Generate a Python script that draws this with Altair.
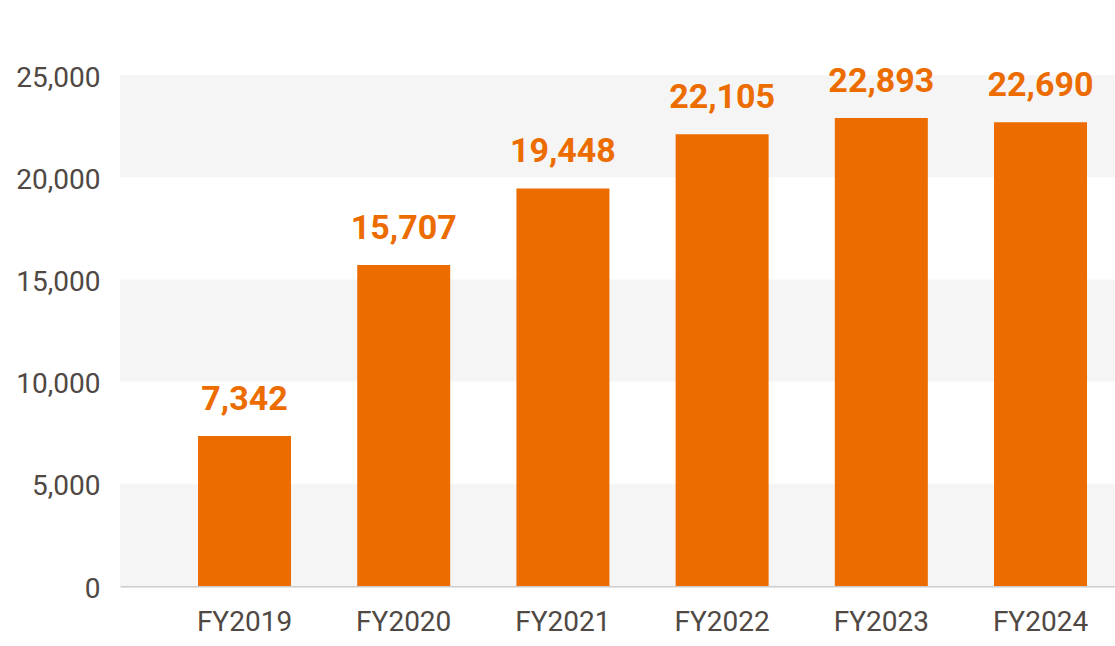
import altair as alt
import pandas as pd

years = ["FY2019", "FY2020", "FY2021", "FY2022", "FY2023", "FY2024"]
values = [7342, 15707, 19448, 22105, 22893, 22690]
y_ticks = [0, 5000, 10000, 15000, 20000, 25000]
band_starts = [0, 10000, 20000]
band_size = 5000

ORANGE = "#ec6c00"
TEXT = "#4f4843"
FONT = "Roboto"

df = pd.DataFrame({"year": years, "value": values})
bands = pd.DataFrame({"y": band_starts, "y2": [b + band_size for b in band_starts]})

W, H = 995, 511

x_scale = alt.Scale(domain=years, paddingInner=0.416, paddingOuter=0.333, align=0.736)
y_scale = alt.Scale(domain=[0, 25000], nice=False)
y_axis = alt.Axis(
    values=y_ticks, format=",.0f", title=None, ticks=False, domain=False, grid=False,
    labelFont=FONT, labelFontSize=28, labelColor=TEXT, labelPadding=20, labelOffset=3,
)

band_layer = alt.Chart(bands).mark_rect(color="#f5f5f5").encode(
    x=alt.value(0),
    x2=alt.value(W),
    y=alt.Y("y:Q", scale=y_scale, axis=y_axis),
    y2="y2:Q",
)

bars = alt.Chart(df).mark_bar(color=ORANGE, size=93).encode(
    x=alt.X("year:N", scale=x_scale, sort=years, axis=alt.Axis(
        title=None, ticks=False, labelAngle=0, labelFont=FONT, labelFontSize=28,
        labelColor=TEXT, labelPadding=22, domainColor="#cccccc", domainWidth=2,
    )),
    y=alt.Y("value:Q", scale=y_scale, axis=y_axis),
)

labels = alt.Chart(df).mark_text(
    color=ORANGE, font=FONT, fontSize=34, fontWeight="bold", baseline="alphabetic", dy=-26,
).encode(
    x=alt.X("year:N", scale=x_scale, sort=years),
    y=alt.Y("value:Q", scale=y_scale, axis=y_axis),
    text=alt.Text("value:Q", format=","),
)

chart = alt.layer(band_layer, bars, labels).properties(
    width=W, height=H,
    autosize=alt.AutoSizeParams(type="none"),
    padding={"left": 120, "top": 75, "right": 0, "bottom": 60},
).configure_view(stroke=None)

chart.save("out.html", embed_options={"renderer": "svg", "actions": False})
